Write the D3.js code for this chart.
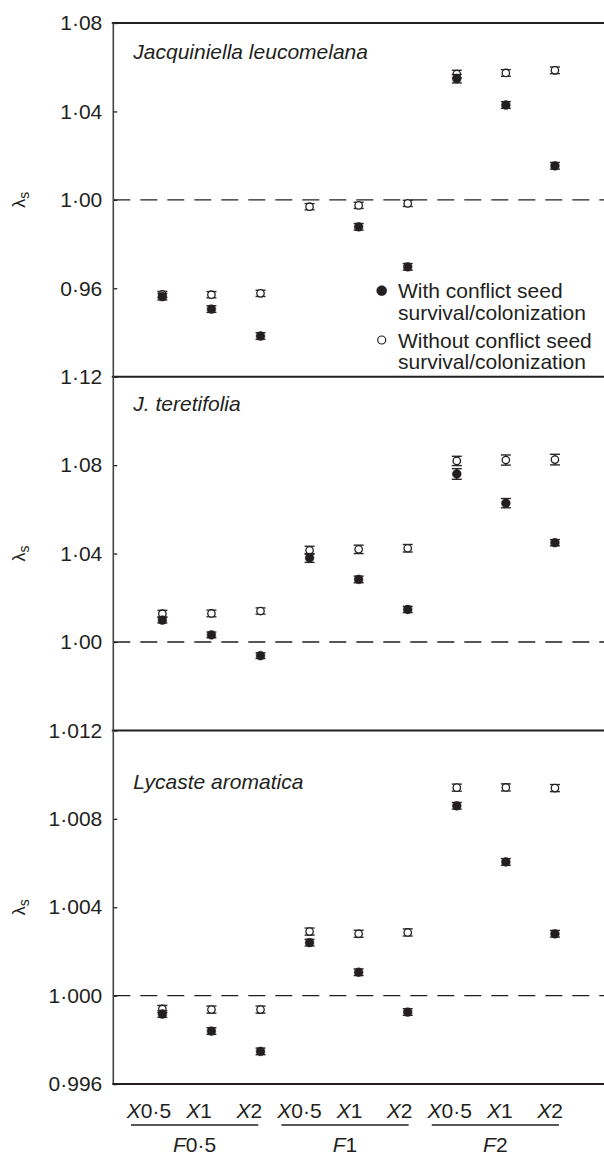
<!DOCTYPE html>
<html><head><meta charset="utf-8">
<script src="https://cdn.jsdelivr.net/npm/d3@7"></script>
<style>
body{margin:0;background:#fff}
svg{display:block}
text{font-family:"Liberation Sans",Arial,Helvetica,sans-serif;fill:#231f20}
</style>
</head><body><svg id="c" width="604" height="1155"></svg>
<script>
// ---------- data ----------
const groups = ["F0·5", "F1", "F2"];
const doses = ["X0·5", "X1", "X2"];
const categories = groups.flatMap(g => doses.map(d => g + "|" + d));

const species = ["Jacquiniella leucomelana", "J. teretifolia", "Lycaste aromatica"];
const seriesNames = ["With conflict seed|survival/colonization", "Without conflict seed|survival/colonization"];

// Jacquiniella leucomelana
const jlWith      = [0.9562, 0.9506, 0.9384, null,   0.9878, 0.9697, 1.0548, 1.0429, 1.0154];
const jlWithErr   = [0.0015, 0.0015, 0.0015, null,   0.0015, 0.0015, 0.0019, 0.0015, 0.0015];
const jlWithout   = [0.9572, 0.9571, 0.9577, 0.9969, 0.9975, 0.9984, 1.0569, 1.0574, 1.0586];
const jlWithoutErr= [0.0014, 0.0014, 0.0014, 0.0014, 0.0014, 0.0014, 0.0017, 0.0015, 0.0015];

// J. teretifolia
const jtWith      = [1.0099, 1.0032, 0.9938, 1.0380, 1.0283, 1.0147, 1.0760, 1.0628, 1.0449];
const jtWithErr   = [0.0013, 0.0013, 0.0013, 0.0020, 0.0015, 0.0014, 0.0024, 0.0021, 0.0014];
const jtWithout   = [1.0128, 1.0129, 1.0140, 1.0415, 1.0419, 1.0424, 1.0819, 1.0823, 1.0825];
const jtWithoutErr= [0.0015, 0.0015, 0.0014, 0.0018, 0.0019, 0.0017, 0.0021, 0.0023, 0.0024];

// Lycaste aromatica
const laWith      = [0.99917, 0.99840, 0.99748, 1.00240, 1.00106, 0.99926, 1.00859, 1.00605, 1.00280];
const laWithErr   = [0.00015, 0.00015, 0.00015, 0.00015, 0.00015, 0.00015, 0.00015, 0.00015, 0.00015];
const laWithout   = [0.99940, 0.99937, 0.99937, 1.00290, 1.00280, 1.00286, 1.00941, 1.00942, 1.00939];
const laWithoutErr= [0.00016, 0.00016, 0.00016, 0.00016, 0.00016, 0.00016, 0.00016, 0.00016, 0.00016];

const yDomains = [[0.92, 1.08], [0.96, 1.12], [0.996, 1.012]];
const yTicks   = [[0.96, 1.00, 1.04, 1.08], [1.00, 1.04, 1.08, 1.12], [0.996, 1.000, 1.004, 1.008, 1.012]];
const tickFormats = [".2f", ".2f", ".3f"];
const refLine = 1.0;

// ---------- layout ----------
const left = 113.3, right = 604, top0 = 23, ph = 353.7;
const fs = 21;
const ink = "#231f20";
const speciesDy = [36, 34.5, 58.5];

const panels = [
  {name: species[0], w: jlWith, we: jlWithErr, o: jlWithout, oe: jlWithoutErr},
  {name: species[1], w: jtWith, we: jtWithErr, o: jtWithout, oe: jtWithoutErr},
  {name: species[2], w: laWith, we: laWithErr, o: laWithout, oe: laWithoutErr}
];

const svg = d3.select("#c");
const x = d3.scalePoint().domain(categories).range([left, right]).padding(1);
const dot = s => s.replace(".", "·");

panels.forEach((p, i) => {
  const y0 = top0 + i * ph;
  const y = d3.scaleLinear().domain(yDomains[i]).range([y0 + ph, y0]);
  const g = svg.append("g");

  // top frame line of the panel
  g.append("line").attr("x1", left - 1.5).attr("x2", right).attr("y1", y0).attr("y2", y0)
    .attr("stroke", ink).attr("stroke-width", 2);

  // y axis ticks + labels
  const ax = g.append("g").attr("transform", `translate(${left},0)`)
    .call(d3.axisLeft(y).tickValues(yTicks[i]).tickSize(-4).tickPadding(11)
      .tickFormat(v => dot(d3.format(tickFormats[i])(v))));
  ax.select(".domain").remove();
  ax.selectAll(".tick line").attr("stroke", ink).attr("stroke-width", 1.3);
  ax.selectAll(".tick text").attr("font-size", fs).attr("fill", ink)
    .style("font-family", '"Liberation Sans",Arial,sans-serif');

  // reference dashed line at 1
  g.append("line").attr("x1", left).attr("x2", right).attr("y1", y(refLine)).attr("y2", y(refLine))
    .attr("stroke", ink).attr("stroke-width", 1.3).attr("stroke-dasharray", "17,10");

  // species label
  g.append("text").attr("x", left + 20).attr("y", y0 + speciesDy[i])
    .attr("font-size", fs).attr("font-style", "italic").text(p.name);

  // y label
  const yl = g.append("text").attr("transform", `translate(25,${y0 + ph / 2}) rotate(-90)`)
    .attr("text-anchor", "middle").attr("font-size", 18);
  yl.append("tspan").text("λ");
  yl.append("tspan").attr("font-size", 14).attr("dy", 4).text("s");

  // error bars & points
  const draw = (vals, errs, filled) => {
    const d = categories.map((c, k) => ({c, v: vals[k], e: errs[k]})).filter(d => d.v != null);
    const eb = g.append("g").attr("stroke", "#2a2a2a").attr("stroke-width", 1.4);
    d.forEach(r => {
      const cx = x(r.c);
      eb.append("line").attr("x1", cx).attr("x2", cx).attr("y1", y(r.v - r.e)).attr("y2", y(r.v + r.e));
      eb.append("line").attr("x1", cx - 5).attr("x2", cx + 5).attr("y1", y(r.v - r.e)).attr("y2", y(r.v - r.e));
      eb.append("line").attr("x1", cx - 5).attr("x2", cx + 5).attr("y1", y(r.v + r.e)).attr("y2", y(r.v + r.e));
    });
    g.append("g").selectAll("circle").data(d).join("circle")
      .attr("cx", r => x(r.c)).attr("cy", r => y(r.v))
      .attr("r", filled ? 4.4 : 3.7)
      .attr("fill", filled ? ink : "#fff")
      .attr("stroke", ink).attr("stroke-width", filled ? 0.5 : 1.3);
  };
  draw(p.o, p.oe, false);
  draw(p.w, p.we, true);
});

// left axis line
svg.append("line").attr("x1", left).attr("x2", left).attr("y1", top0).attr("y2", top0 + 3 * ph)
  .attr("stroke", "#444").attr("stroke-width", 1.6);
// bottom line
svg.append("line").attr("x1", left - 1).attr("x2", right).attr("y1", top0 + 3 * ph).attr("y2", top0 + 3 * ph)
  .attr("stroke", ink).attr("stroke-width", 2);

// legend
const leg = svg.append("g");
const legRows = [
  {filled: true, cy: 290.7, lines: seriesNames[0].split("|")},
  {filled: false, cy: 340, lines: seriesNames[1].split("|")}
];
legRows.forEach(r => {
  leg.append("circle").attr("cx", 381.7).attr("cy", r.cy).attr("r", r.filled ? 5 : 4)
    .attr("fill", r.filled ? ink : "#fff").attr("stroke", ink).attr("stroke-width", r.filled ? 0.5 : 1.2);
  r.lines.forEach((t, j) => {
    leg.append("text").attr("x", 398).attr("y", r.cy + 7.5 + j * 21.5).attr("font-size", fs).text(t);
  });
});

// x-axis category labels
const xLab = d3.scalePoint().domain(categories).range([149, 550]);
const xa = svg.append("g");
categories.forEach(c => {
  const [gname, d] = c.split("|");
  const t = xa.append("text").attr("x", xLab(c)).attr("y", 1118.3).attr("text-anchor", "middle").attr("font-size", fs);
  t.append("tspan").attr("font-style", "italic").text(d[0]);
  t.append("tspan").text(d.slice(1));
});
groups.forEach(gname => {
  const cs = categories.filter(c => c.startsWith(gname + "|"));
  const x1 = xLab(cs[0]) - 18, x2 = xLab(cs[cs.length - 1]) + 9;
  xa.append("line").attr("x1", x1).attr("x2", x2).attr("y1", 1125).attr("y2", 1125)
    .attr("stroke", ink).attr("stroke-width", 1.3);
  const t = xa.append("text").attr("x", (x1 + x2) / 2).attr("y", 1151.7).attr("text-anchor", "middle").attr("font-size", fs);
  t.append("tspan").attr("font-style", "italic").text(gname[0]);
  t.append("tspan").text(gname.slice(1));
});
</script>
</body></html>
